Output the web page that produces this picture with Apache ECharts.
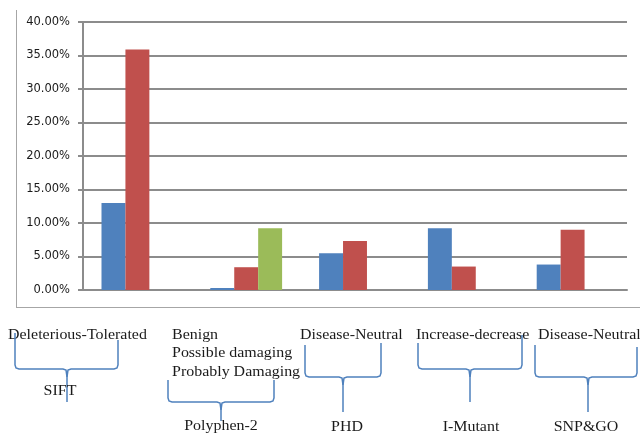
<!DOCTYPE html>
<html>
<head>
<meta charset="utf-8">
<script src="https://cdn.jsdelivr.net/npm/echarts@6/dist/echarts.min.js"></script>
<style>
html,body{margin:0;padding:0;background:#fff;}
#c{width:640px;height:436px;}
</style>
</head>
<body>
<div id="c"></div>
<script>
const categories = ['SIFT', 'Polyphen-2', 'PHD', 'I-Mutant', 'SNP&GO'];
const firstOutcome = [13.0, 0.3, 5.5, 9.2, 3.8];
const secondOutcome = [35.9, 3.4, 7.3, 3.5, 9.0];
const thirdOutcome = [0, 9.2, 0, 0, 0];
const yTicks = [0, 5, 10, 15, 20, 25, 30, 35, 40];
const outcomeLabels = [
  ['Deleterious-Tolerated'],
  ['Benign', 'Possible damaging', 'Probably Damaging'],
  ['Disease-Neutral'],
  ['Increase-decrease'],
  ['Disease-Neutral']
];

// annotation layout (pixels)
const labelPos = [
  {tx: 8, ty: 335, bx1: 15, bx2: 118, top1: 333, top2: 340, by: 369, cx: 67, tip: 402, lx: 60, ly: 391},
  {tx: 172, ty: 335, bx1: 168, bx2: 274, top1: 380, top2: 380, by: 402, cx: 221, tip: 421, lx: 221, ly: 426},
  {tx: 300, ty: 335, bx1: 305, bx2: 381, top1: 345, top2: 343, by: 377, cx: 343, tip: 412, lx: 347, ly: 427},
  {tx: 416, ty: 335, bx1: 418, bx2: 522, top1: 343, top2: 335, by: 369, cx: 470, tip: 402, lx: 471, ly: 427},
  {tx: 538, ty: 335, bx1: 535, bx2: 637, top1: 345, top2: 347, by: 377, cx: 588, tip: 412, lx: 586, ly: 427}
];

const chart = echarts.init(document.getElementById('c'), null, {renderer: 'canvas'});

const graphics = [];
// outer frame lines
graphics.push({type: 'line', shape: {x1: 16.5, y1: 10, x2: 16.5, y2: 307}, style: {stroke: '#a6a6a6', lineWidth: 1}});
graphics.push({type: 'line', shape: {x1: 16, y1: 307.5, x2: 640, y2: 307.5}, style: {stroke: '#a6a6a6', lineWidth: 1}});

const serif = '"Liberation Serif", "Times New Roman", serif';
const braceStyle = {stroke: '#4f81bd', lineWidth: 1.5, fill: null};
const stretch = 1.14;
outcomeLabels.forEach((lines, i) => {
  const p = labelPos[i];
  lines.forEach((t, j) => {
    graphics.push({type: 'text', x: p.tx, y: p.ty + j * 18.5, scaleX: stretch,
      style: {text: t, font: '14px ' + serif, fill: '#1a1a1a', textVerticalAlign: 'middle', textAlign: 'left'}});
  });
  const r = 4;
  const left = [[p.bx1, p.top1], [p.bx1, p.by - r], [p.bx1 + 1, p.by - 1], [p.bx1 + r, p.by],
    [p.cx - r, p.by], [p.cx - 1, p.by + 1], [p.cx, p.by + r + 4], [p.cx, p.tip]];
  const right = [[p.bx2, p.top2], [p.bx2, p.by - r], [p.bx2 - 1, p.by - 1], [p.bx2 - r, p.by],
    [p.cx + r, p.by], [p.cx + 1, p.by + 1], [p.cx, p.by + r + 4]];
  graphics.push({type: 'polyline', shape: {points: left}, style: braceStyle});
  graphics.push({type: 'polyline', shape: {points: right}, style: braceStyle});
  graphics.push({type: 'text', x: p.lx, y: p.ly, scaleX: stretch,
    style: {text: categories[i], font: '14px ' + serif, fill: '#1a1a1a', textVerticalAlign: 'middle', textAlign: 'center'}});
});

chart.setOption({
  animation: false,
  backgroundColor: '#ffffff',
  grid: {left: 83, right: 13, top: 22, bottom: 146, containLabel: false},
  xAxis: {
    type: 'category',
    data: categories,
    axisLine: {show: true, lineStyle: {color: '#8c8c8c', width: 2}},
    axisTick: {show: false},
    axisLabel: {show: false}
  },
  yAxis: {
    type: 'value',
    min: yTicks[0],
    max: yTicks[yTicks.length - 1],
    interval: 5,
    axisLine: {show: true, lineStyle: {color: '#8c8c8c', width: 2}},
    axisTick: {show: true, length: 5, lineStyle: {color: '#8c8c8c', width: 2}},
    splitLine: {show: true, lineStyle: {color: '#8c8c8c', width: 2}},
    axisLabel: {
      formatter: v => v.toFixed(2) + '%',
      fontFamily: '"DejaVu Sans", Verdana, sans-serif',
      fontSize: 11.5,
      color: '#1a1a1a',
      margin: 13
    }
  },
  series: [
    {name: 'Outcome 1', type: 'bar', data: firstOutcome, barGap: '0%', barCategoryGap: '34%',
      itemStyle: {color: '#4f81bd'}},
    {name: 'Outcome 2', type: 'bar', data: secondOutcome, itemStyle: {color: '#c0504d'}},
    {name: 'Outcome 3', type: 'bar', data: thirdOutcome, itemStyle: {color: '#9bbb59'}}
  ],
  graphic: graphics
});
</script>
</body>
</html>
